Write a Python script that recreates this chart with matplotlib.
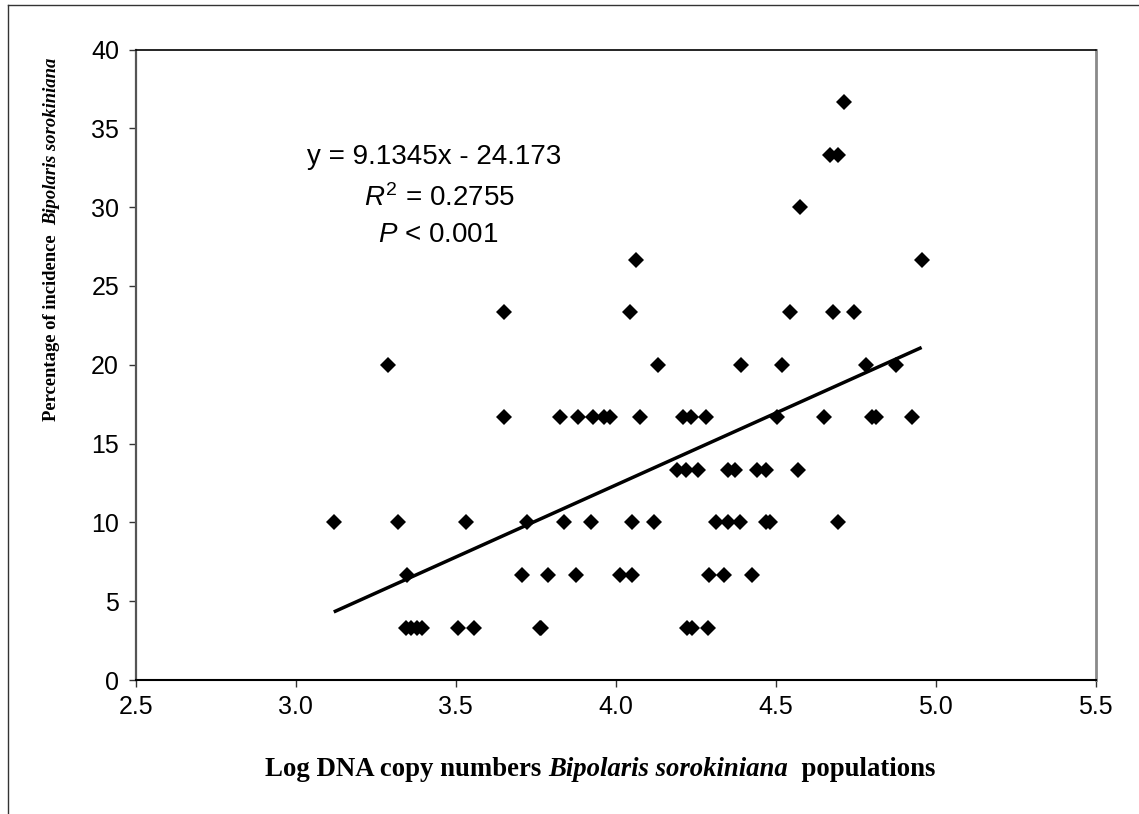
import matplotlib
matplotlib.use("Agg")
import matplotlib.pyplot as plt
from matplotlib.lines import Line2D
import numpy as np

plt.rcParams["mathtext.fontset"] = "custom"
plt.rcParams["mathtext.it"] = "Liberation Sans:italic"
plt.rcParams["mathtext.rm"] = "Liberation Sans"

# Log10 DNA copy numbers of Bipolaris sorokiniana, grouped by incidence level (%)
x_at_3_33 = [3.345, 3.36, 3.38, 3.395, 3.507, 3.557, 3.762, 3.768, 4.222, 4.238, 4.289]
x_at_6_67 = [3.347, 3.708, 3.788, 3.876, 4.013, 4.052, 4.293, 4.338, 4.425]
x_at_10_00 = [3.119, 3.319, 3.532, 3.724, 3.838, 3.924, 4.051, 4.119, 4.313, 4.350,
              4.388, 4.469, 4.482, 4.694]
x_at_13_33 = [4.193, 4.220, 4.256, 4.350, 4.373, 4.443, 4.469, 4.569]
x_at_16_67 = [3.651, 3.826, 3.882, 3.930, 3.963, 3.982, 4.076, 4.209, 4.234, 4.282,
              4.505, 4.650, 4.800, 4.813, 4.925]
x_at_20_00 = [3.288, 4.132, 4.392, 4.519, 4.782, 4.875]
x_at_23_33 = [3.651, 4.045, 4.545, 4.680, 4.746]
x_at_26_67 = [4.063, 4.956]
x_at_30_00 = [4.576]
x_at_33_33 = [4.670, 4.694]
x_at_36_67 = [4.714]

incidence_levels = [3.33, 6.67, 10.0, 13.33, 16.67, 20.0, 23.33, 26.67, 30.0, 33.33, 36.67]
x_groups = [x_at_3_33, x_at_6_67, x_at_10_00, x_at_13_33, x_at_16_67, x_at_20_00,
            x_at_23_33, x_at_26_67, x_at_30_00, x_at_33_33, x_at_36_67]

# Fitted trend line
slope = 9.1345
intercept = -24.173

x_ticks = [2.5, 3.0, 3.5, 4.0, 4.5, 5.0, 5.5]
y_ticks = [0, 5, 10, 15, 20, 25, 30, 35, 40]

log_copies = np.concatenate([np.asarray(g, float) for g in x_groups])
incidence = np.concatenate([np.full(len(g), lvl) for g, lvl in zip(x_groups, incidence_levels)])

W, H = 1139, 814
fig = plt.figure(figsize=(W / 100, H / 100), dpi=100)
fig.patch.set_facecolor("white")

left_px, right_px, top_px, bottom_px = 135.7, 1095.7, 49.5, 680.0
ax = fig.add_axes([left_px / W, 1 - bottom_px / H,
                   (right_px - left_px) / W, (bottom_px - top_px) / H])

ax.plot(log_copies, incidence, linestyle="none", marker="D", ms=7.8,
        color="black", markeredgewidth=0, zorder=3)

fit_x = np.array([log_copies.min(), log_copies.max()])
ax.plot(fit_x, slope * fit_x + intercept, color="black", lw=2.5,
        solid_capstyle="butt", zorder=2)

ax.set_xlim(2.5, 5.5)
ax.set_ylim(0, 40)
ax.set_xticks(x_ticks)
ax.set_xticklabels([f"{v:.1f}" for v in x_ticks])
ax.set_yticks(y_ticks)
ax.set_yticklabels([str(v) for v in y_ticks])

tick_font = "Liberation Sans"
for lab in ax.get_xticklabels() + ax.get_yticklabels():
    lab.set_fontfamily(tick_font)
    lab.set_fontsize(18)
ax.tick_params(axis="both", direction="out", length=5, width=1, color="#333333")
ax.tick_params(axis="x", pad=6)
ax.tick_params(axis="y", pad=7)

ax.spines["top"].set_color("black")
ax.spines["top"].set_linewidth(1.2)
ax.spines["bottom"].set_color("black")
ax.spines["bottom"].set_linewidth(1.5)
ax.spines["left"].set_color("#555555")
ax.spines["left"].set_linewidth(1.6)
ax.spines["right"].set_color("#8a8a8a")
ax.spines["right"].set_linewidth(2.0)

# Regression statistics
eq_x = (434 - left_px) / (right_px - left_px)
def y_frac(py):
    return (bottom_px - py) / (bottom_px - top_px)
stat_size = 20
ax.text(eq_x, y_frac(164), "y = 9.1345x - 24.173", transform=ax.transAxes,
        ha="center", va="baseline", fontsize=stat_size, family=tick_font)
ax.text(eq_x + 0.006, y_frac(205.7), r"$\mathit{R}^{2}$ = 0.2755", transform=ax.transAxes,
        ha="center", va="baseline", fontsize=stat_size, family=tick_font)
ax.text(eq_x + 0.004, y_frac(241.7), r"$\mathit{P}$ < 0.001", transform=ax.transAxes,
        ha="center", va="baseline", fontsize=stat_size, family=tick_font)

serif = "Liberation Serif"
xlab_size = 19.3
ylab_size = 13.4

# x-axis label built from three pieces (species name in italics)
xa = fig.text(0, 0, "Log DNA copy numbers ", fontsize=xlab_size, family=serif,
              fontweight="bold", ha="left", va="center")
xb = fig.text(0, 0, "Bipolaris sorokiniana", fontsize=xlab_size, family=serif,
              fontweight="bold", style="italic", ha="left", va="center")
xc = fig.text(0, 0, "  populations", fontsize=xlab_size, family=serif,
              fontweight="bold", ha="left", va="center")

# y-axis label, rotated
ya = fig.text(0, 0, "Percentage of incidence  ", fontsize=ylab_size, family=serif,
              fontweight="bold", rotation=90, ha="center", va="bottom")
yb = fig.text(0, 0, "Bipolaris sorokiniana", fontsize=ylab_size, family=serif,
              fontweight="bold", style="italic", rotation=90, ha="center", va="bottom")

fig.canvas.draw()
r = fig.canvas.get_renderer()
wa = xa.get_window_extent(r).width
wb = xb.get_window_extent(r).width
wc = xc.get_window_extent(r).width
total = wa + wb + wc
cx, cy = 600, 770
x0 = cx - total / 2
xa.set_position((x0 / W, 1 - cy / H))
xb.set_position(((x0 + wa) / W, 1 - cy / H))
xc.set_position(((x0 + wa + wb) / W, 1 - cy / H))

ha_ = ya.get_window_extent(r).height
hb_ = yb.get_window_extent(r).height
ytot = ha_ + hb_
ycx, ycy = 52, 239
ybot = ycy + ytot / 2  # pixel row of bottom end
ya.set_position((ycx / W, 1 - ybot / H))
yb.set_position((ycx / W, 1 - (ybot - ha_) / H))

# Outer frame (left and top edges)
fig.add_artist(Line2D([8 / W, 8 / W], [0, 1 - 5 / H], transform=fig.transFigure,
                      color="#333333", lw=1.0))
fig.add_artist(Line2D([8 / W, 1], [1 - 5 / H, 1 - 5 / H], transform=fig.transFigure,
                      color="#333333", lw=1.0))

fig.savefig("out.png", dpi=100, facecolor="white")
